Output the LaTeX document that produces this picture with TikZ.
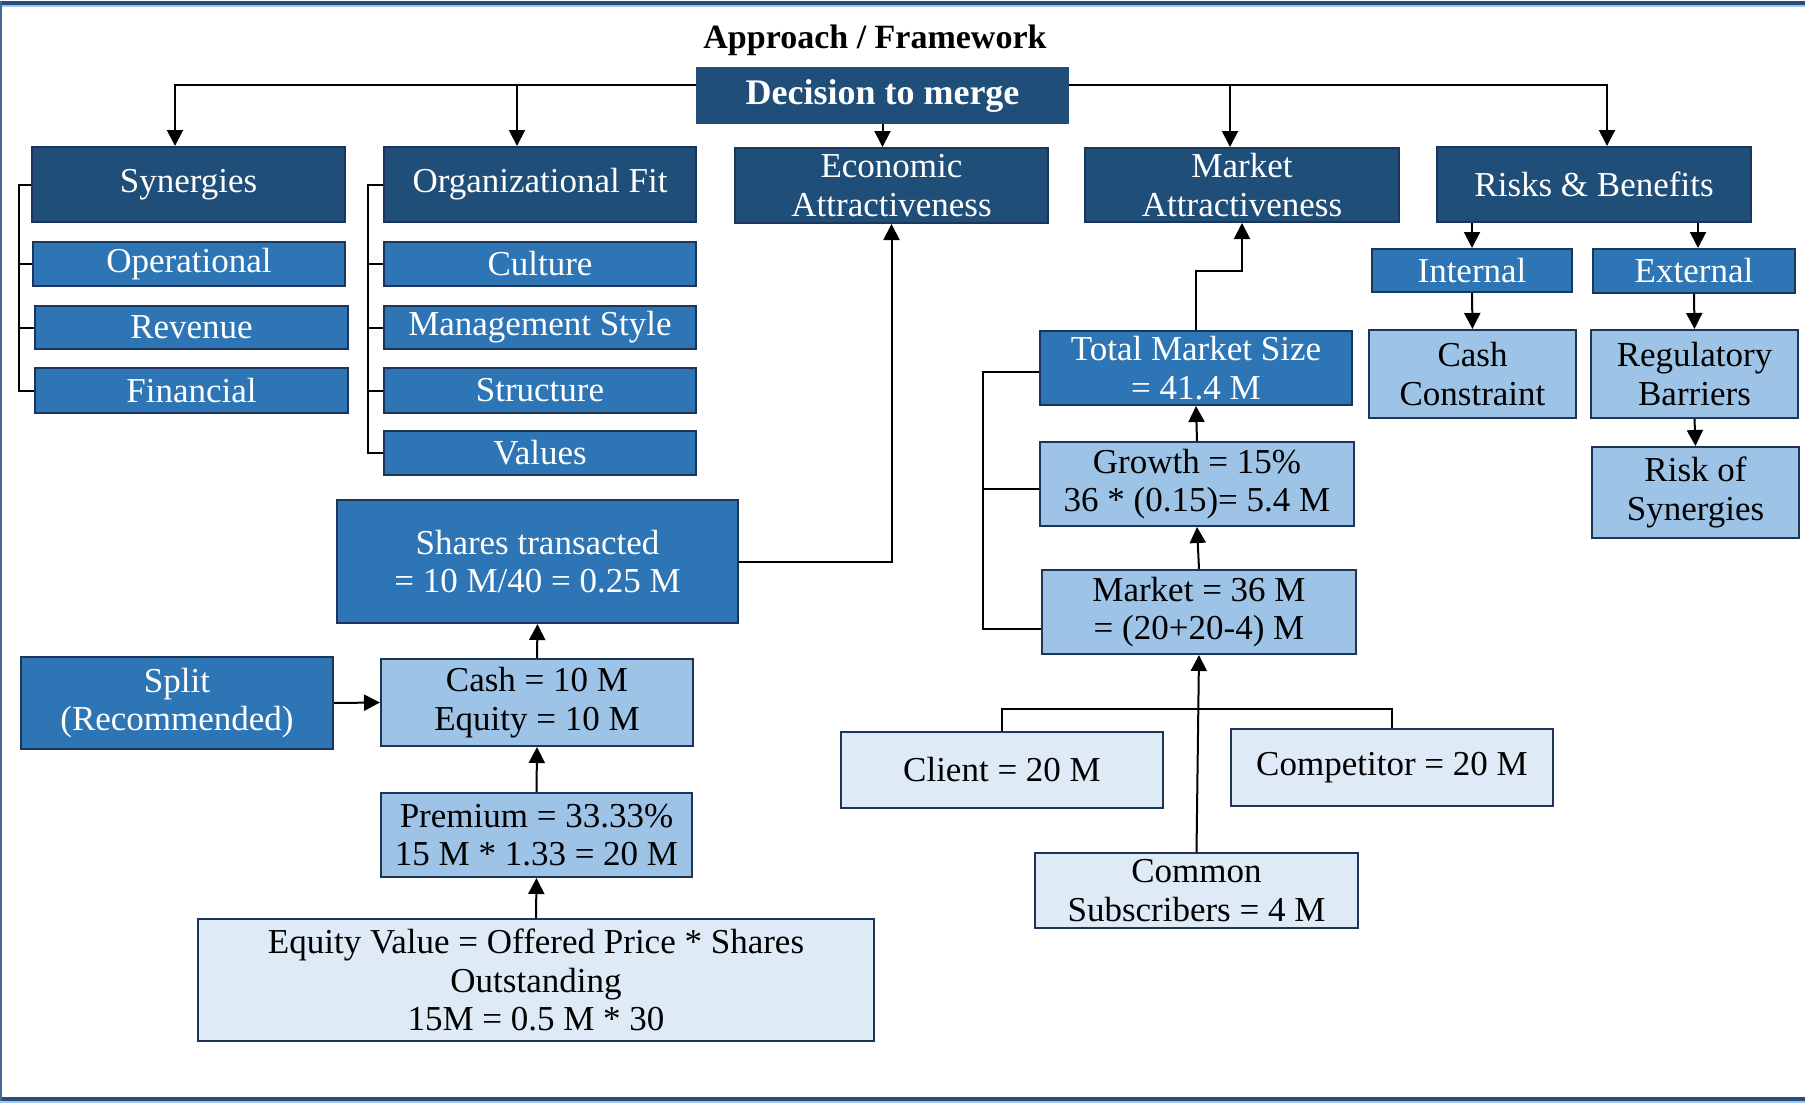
\documentclass[tikz,border=0pt]{standalone}
\usepackage{fontspec}
\setmainfont{Liberation Serif}
\usetikzlibrary{arrows.meta,calc}

\definecolor{navy}{HTML}{1F4E79}
\definecolor{midblue}{HTML}{2E75B6}
\definecolor{lightblue}{HTML}{9DC3E6}
\definecolor{paleblue}{HTML}{DEEBF7}
\definecolor{edge}{HTML}{1C3558}
\definecolor{framebar}{HTML}{24507F}
\definecolor{framelight}{HTML}{A9C4E4}

\tikzset{
  box/.style={draw=edge, line width=1pt, inner sep=0pt, align=center,
              font=\fontsize{17.5}{19.2}\selectfont},
  navybox/.style={box, fill=navy, text=white},
  midbox/.style={box, fill=midblue, text=white},
  lightbox/.style={box, fill=lightblue, text=black},
  palebox/.style={box, fill=paleblue, text=black},
  link/.style={line width=1pt, black},
  arr/.style={link, -{Triangle[length=8pt,width=8pt]}},
  sz/.style 2 args={minimum width=#1*0.5pt, minimum height=#2*0.5pt}
}

\begin{document}
\begin{tikzpicture}[x=0.5pt, y=-0.5pt]
  \useasboundingbox (0,0) rectangle (1805,1103);

  % page frame: bars at top and bottom, thin rule on the left
  \fill[framebar] (0,1) rectangle (1805,5);
  \fill[framelight] (0,5) rectangle (1805,6.5);
  \fill[framebar] (0,1097) rectangle (1805,1101);
  \fill[framelight] (0,1101) rectangle (1805,1103);
  \fill[framebar!85] (0,1) rectangle (1.6,1101);

  % heading
  \node[font=\fontsize{17}{19}\selectfont\bfseries] (title) at (875,40) {Approach / Framework};

  % top level
  \node[navybox, draw=navy, sz={371}{55}, font=\fontsize{18}{20}\selectfont\bfseries] (decision) at (882.5,95.5) {Decision to merge};
  \node[navybox, sz={313}{75}] (syn) at (188.5,184.5) {Synergies};
  \node[navybox, sz={312}{75}] (org) at (540,184.5) {Organizational Fit};
  \node[navybox, sz={313}{75}] (econ) at (891.5,185.5) {Economic\\Attractiveness};
  \node[navybox, sz={314}{74}] (market) at (1242,185) {Market\\Attractiveness};
  \node[navybox, sz={314}{75}] (risks) at (1594,184.5) {Risks \& Benefits};

  % synergies
  \node[midbox, sz={312}{44}] (op) at (189,264) {Operational};
  \node[midbox, sz={313}{43}] (rev) at (191.5,327.5) {Revenue};
  \node[midbox, sz={313}{45}] (fin) at (191.5,390.5) {Financial};

  % organizational fit
  \node[midbox, sz={312}{44}] (culture) at (540,264) {Culture};
  \node[midbox, sz={312}{43}] (mgmt) at (540,327.5) {Management Style};
  \node[midbox, sz={312}{45}] (struct) at (540,390.5) {Structure};
  \node[midbox, sz={312}{44}] (values) at (540,453) {Values};

  % economic attractiveness
  \node[midbox, sz={401}{123}] (shares) at (537.5,561.5) {Shares transacted\\= 10 M/40 = 0.25 M};
  \node[midbox, sz={312}{92}] (split) at (177,703) {Split\\(Recommended)};
  \node[lightbox, sz={312}{87}] (cash) at (537,702.5) {Cash = 10 M\\Equity = 10 M};
  \node[lightbox, sz={311}{84}] (premium) at (536.5,835) {Premium = 33.33\%\\15 M * 1.33 = 20 M};
  \node[palebox, sz={676}{122}] (equity) at (536,980) {Equity Value = Offered Price * Shares\\Outstanding\\15M = 0.5 M * 30};

  % market attractiveness
  \node[midbox, sz={312}{74}] (total) at (1196,368) {Total Market Size\\= 41.4 M};
  \node[lightbox, sz={314}{84}] (growth) at (1197,484) {Growth = 15\%\\36 * (0.15)= 5.4 M};
  \node[lightbox, sz={314}{84}] (mkt) at (1199,612) {Market = 36 M\\= (20+20-4) M};
  \node[palebox, sz={322}{76}] (client) at (1002,770) {Client = 20 M};
  \node[palebox, sz={322}{77}] (comp) at (1392,767.5) {Competitor = 20 M};
  \node[palebox, sz={323}{75}] (common) at (1196.5,890.5) {Common\\Subscribers = 4 M};

  % risks and benefits
  \node[midbox, sz={200}{43}] (internal) at (1472,270.5) {Internal};
  \node[midbox, sz={202}{44}] (external) at (1694,271) {External};
  \node[lightbox, sz={207}{88}] (cashc) at (1472.5,374) {Cash\\Constraint};
  \node[lightbox, sz={207}{88}] (reg) at (1694.5,374) {Regulatory\\Barriers};
  \node[lightbox, sz={207}{91}] (risksyn) at (1695.5,492.5) {Risk of\\Synergies};

  % bus from the decision box
  \draw[arr] ($(decision.west)+(0,-10.5)$) -| ($(syn.north)+(-13.5,0)$);
  \draw[arr] ($(org.north)+(-23,-62)$) -- ($(org.north)+(-23,0)$);
  \draw[arr] ($(decision.east)+(0,-10.5)$) -| ($(risks.north)+(13,0)$);
  \draw[arr] ($(market.north)+(-12,-63)$) -- ($(market.north)+(-12,0)$);
  \draw[arr] (decision.south) -- (decision.south |- econ.north);

  % brackets
  \draw[link] (syn.west) -- ++(-12,0) |- (fin.west);
  \draw[link] (op.west) -- ++(-13,0);
  \draw[link] (rev.west) -- ++(-15,0);
  \draw[link] (org.west) -- ++(-15,0) |- (values.west);
  \draw[link] (culture.west) -- ++(-15,0);
  \draw[link] (mgmt.west) -- ++(-15,0);
  \draw[link] (struct.west) -- ++(-15,0);

  % economic chain
  \draw[arr] (shares.east) -| (econ.south);
  \draw[arr] (cash.north) -- (shares.south);
  \draw[arr] (premium.north) -- (cash.south);
  \draw[arr] (equity.north) -- (premium.south);
  \draw[arr] (split.east) -- (cash.west);

  % market chain
  \draw[arr] (total.north) -- ++(0,-59) -| (market.south);
  \draw[arr] (growth.north) -- (total.south);
  \draw[arr] (mkt.north) -- (growth.south);
  \draw[link] ($(total.west)+(0,4)$) -- ++(-56,0) |- ($(mkt.west)+(0,17)$);
  \draw[link] ($(growth.west)+(0,5)$) -- ++(-56,0);
  \draw[link] (client.north) -- ++(0,-22) -| (comp.north);
  \draw[arr] (common.north) -- (mkt.south);

  % risks chain
  \draw[arr] (risks.south -| internal.north) -- (internal.north);
  \draw[arr] ($(risks.south -| external.north)+(4,0)$) -- ($(external.north)+(4,0)$);
  \draw[arr] (internal.south) -- (cashc.north);
  \draw[arr] (external.south) -- (reg.north);
  \draw[arr] (reg.south) -- (risksyn.north);
\end{tikzpicture}
\end{document}
